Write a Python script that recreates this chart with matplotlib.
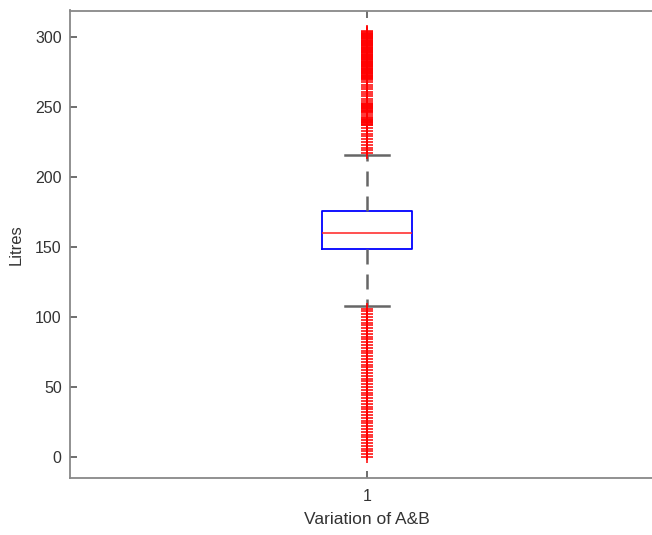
import matplotlib
matplotlib.use("Agg")
import matplotlib.pyplot as plt

# Box statistics (Litres)
median = 160
q1 = 148.5
q3 = 175.5
whisker_low = 108
whisker_high = 216

# Outlier values
fliers_low = [0, 2, 4, 6, 8, 10, 12, 14, 16, 18, 20, 22, 24, 26, 28, 30, 32, 34, 36,
              38, 40, 42, 44, 46, 48, 50, 52, 54, 56, 58, 60, 62, 64, 66, 68, 70, 72,
              74, 76, 78, 80, 82, 84, 86, 88, 90, 92, 94, 96, 98, 100, 102, 104, 106]
fliers_high = [217.5, 219, 221, 223, 225, 227, 229, 231, 233, 235, 237, 237.5, 238,
               238.5, 239, 239.5, 240, 240.5, 241, 241.5, 242, 243, 244.5, 246, 246.5,
               247, 247.5, 248, 248.5, 249, 249.5, 250, 250.5, 251, 251.5, 252, 252.5,
               253, 254.5, 256, 258, 259.5, 261, 263, 264.5, 266, 268,
               269.5, 270, 270.5, 271, 271.5, 272, 272.5, 273, 273.5, 274, 274.5, 275,
               275.5, 276, 276.5, 277, 277.5, 278, 278.5, 279, 279.5, 280, 280.5, 281,
               281.5, 282, 282.5, 283, 283.5, 284, 284.5, 285, 285.5, 286, 286.5, 287,
               287.5, 288, 288.5, 289, 289.5, 290, 290.5, 291, 291.5, 292, 292.5, 293,
               293.5, 294, 294.5, 295, 295.5, 296, 296.5, 297, 297.5, 298, 298.5, 299,
               299.5, 300, 300.5, 301, 301.5, 302, 302.5, 303, 303.5, 304]

group_label = "1"
yticks = [0, 50, 100, 150, 200, 250, 300]

plt.rcParams['font.family'] = ['Liberation Sans', 'DejaVu Sans']

fig = plt.figure(figsize=(6.52, 5.35), dpi=100)
ax = fig.add_axes([70 / 652, 1 - 478 / 535, 594 / 652, (478 - 10.5) / 535])

stats = [dict(med=median, q1=q1, q3=q3, whislo=whisker_low, whishi=whisker_high,
              fliers=fliers_low + fliers_high, label=group_label)]

ax.bxp(stats, positions=[1], widths=0.15, showfliers=True,
       boxprops=dict(color='#0000ff', linewidth=1.3),
       medianprops=dict(color='#ff2020', linewidth=1.1),
       whiskerprops=dict(color='#666666', linewidth=1.8, linestyle=(0, (6, 4))),
       capprops=dict(color='#666666', linewidth=1.8),
       flierprops=dict(marker='+', markeredgecolor='#ff0000', markersize=9,
                       markeredgewidth=1.1, linestyle='none'))

ax.set_xlim(0.5, 1.5)
ax.set_ylim(-15, 319)
ax.set_yticks(yticks)
ax.set_xticks([1])
ax.set_xticklabels([group_label])

for s in ax.spines.values():
    s.set_color('#888888')
    s.set_linewidth(1.3)
ax.tick_params(direction='in', length=5, width=1.2, color='#555555',
               labelcolor='#333333', labelsize=11.5, top=True, right=True)
ax.tick_params(axis='y', pad=6)
ax.tick_params(axis='x', pad=8)

ax.set_ylabel('Litres', fontsize=12, color='#333333', labelpad=8)
ax.set_xlabel('Variation of A&B', fontsize=12.5, color='#333333', labelpad=6)

fig.savefig('out.png', dpi=100)
